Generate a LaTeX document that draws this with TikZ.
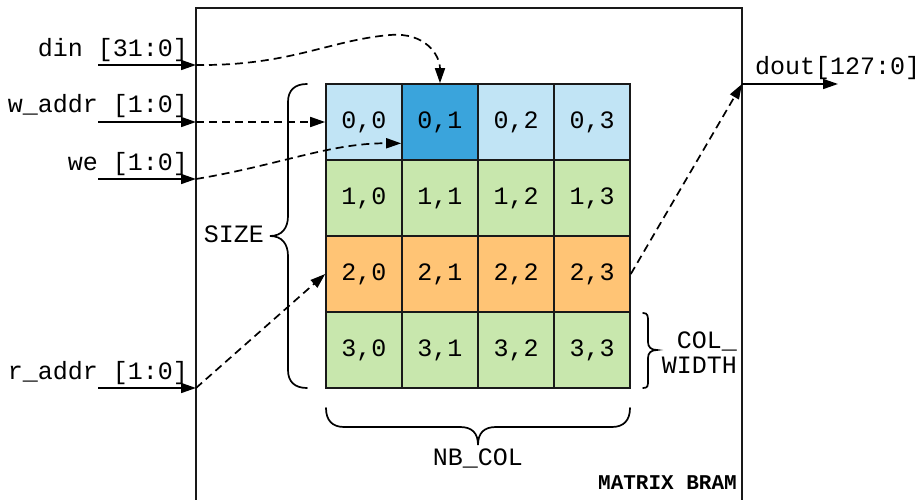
\documentclass[tikz,border=0pt]{standalone}
\usepackage{fontspec}
\setmainfont{Liberation Mono}
\usetikzlibrary{arrows.meta,calc}

\definecolor{bluelt}{RGB}{193,228,245}
\definecolor{bluedk}{RGB}{58,164,220}
\definecolor{greenc}{RGB}{200,231,173}
\definecolor{orangec}{RGB}{255,196,117}

\begin{document}
\begin{tikzpicture}[x=1pt,y=-1pt,
  every node/.style={font=\fontsize{25}{25}\selectfont, inner sep=0pt},
  cell/.style={draw=black!90, line width=1.6pt, minimum size=76pt, anchor=center},
  lbl/.style={anchor=base east},
  boxline/.style={line width=2pt, draw=black!90},
  sig/.style={line width=1.7pt, -{Triangle[length=15pt,width=10pt]}},
  dashsig/.style={sig, dash pattern=on 8pt off 5pt},
  brace/.style={line width=1.7pt, line cap=round}]

\useasboundingbox (0,0) rectangle (922,500);

% BRAM outline (open at the bottom of the frame)
\draw[boxline] (196,530) -- (196,8) -- (742,8) -- (742,530);
\node[font=\bfseries\fontsize{21}{24}\selectfont, anchor=base east] (title) at (737,489) {MATRIX BRAM};

% memory cells
\foreach \r/\col in {0/bluelt,1/greenc,2/orangec,3/greenc}
  \foreach \c in {0,...,3}
    \node[cell, fill=\col] (c\r\c) at ({364+76*\c},{122+76*\r}) {\r,\c};
\node[cell, fill=bluedk] (c01) at (440,122) {0,1};

% ports on the BRAM edge
\coordinate (dinS) at (98,65);   \coordinate (dinP) at (196,65);
\coordinate (waS) at (98,122);   \coordinate (waP) at (196,122);
\coordinate (weS) at (98,179);   \coordinate (weP) at (196,179);
\coordinate (raS) at (98,388);   \coordinate (raP) at (196,388);
\coordinate (doutP) at (742,84); \coordinate (doutE) at (838,84);
\coordinate (weT) at ($(c01.west)!0.55!(c01.south west)$);

\node[lbl] (ldin) at (188,57) {din [31:0]};
\node[lbl] (lwa) at (188,113) {w\_addr [1:0]};
\node[lbl] (lwe) at (188,171) {we [1:0]};
\node[lbl] (lra) at (188,379) {r\_addr [1:0]};
\node[anchor=base west] (ldout) at (755,75) {dout[127:0]};

\draw[sig] (dinS) -- (dinP);
\draw[sig] (waS) -- (waP);
\draw[sig] (weS) -- (weP);
\draw[sig] (raS) -- (raP);
\draw[sig] (doutP) -- (doutE);

% internal data paths
\draw[dashsig] (dinP) .. controls (290,66) and (330,40) .. (390,35)
               .. controls (425,32) and (440,55) .. (c01.north);
\draw[dashsig] (waP) -- (c00.west);
\draw[dashsig] (weP) .. controls (280,165) and (330,143) .. (weT);
\draw[dashsig] (raP) -- (c20.west);
\draw[dashsig] (c23.east) -- (doutP);

% SIZE brace
\draw[brace] (307,84) .. controls (295,84) and (288,90) .. (288,102) -- (288,216)
  .. controls (288,228) and (282,236) .. (270,236)
  .. controls (282,236) and (288,244) .. (288,256) -- (288,370)
  .. controls (288,382) and (295,388) .. (307,388);
\node[anchor=base east] (lsize) at (264,243) {SIZE};

% NB_COL brace
\draw[brace] (326,408) .. controls (326,420) and (332,427) .. (344,427) -- (460,427)
  .. controls (472,427) and (478,433) .. (478,445)
  .. controls (478,433) and (484,427) .. (496,427) -- (612,427)
  .. controls (624,427) and (630,420) .. (630,408);
\node[anchor=base] (lnb) at (478,465) {NB\_COL};

% COL_WIDTH brace
\draw[brace] (643,313) .. controls (648,313) and (648,316) .. (648,322) -- (648,342)
  .. controls (648,347) and (651,350) .. (657,350)
  .. controls (651,350) and (648,353) .. (648,358) -- (648,380)
  .. controls (648,386) and (648,388) .. (643,388);
\node[align=right, anchor=east] (lcw) at (737,353) {COL\_\\WIDTH};
\end{tikzpicture}
\end{document}
